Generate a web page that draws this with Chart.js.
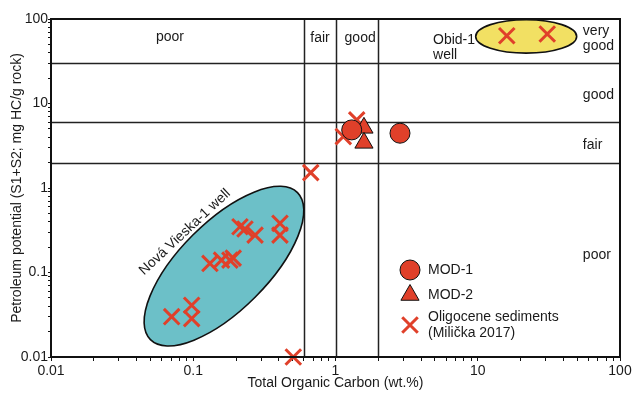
<!DOCTYPE html>
<html>
<head>
<meta charset="utf-8">
<script src="https://cdn.jsdelivr.net/npm/chart.js@4"></script>
<style>
  html, body { margin: 0; padding: 0; background: #fff; }
  #wrap { width: 638px; height: 393px; }
</style>
</head>
<body>
<div id="wrap"><canvas id="tocChart"></canvas></div>
<script>
// decade ticks (both axes are log 0.01 .. 100)
const decades = [0.01, 0.1, 1, 10, 100];
const tickLabels = ['0.01', '0.1', '1', '10', '100'];

// classification boundaries
const tocBounds = [0.6, 1, 2];        // wt.%
const s1s2Bounds = [2, 6, 30];        // mg HC/g rock

// MOD-1 (circles)
const mod1Toc = [1.30, 2.84];
const mod1Pot = [4.87, 4.45];

// MOD-2 (triangles)
const mod2Toc = [1.585, 1.585];
const mod2Pot = [5.15, 3.42];

// Oligocene sediments (Milička 2017)
const oligoToc = [0.0705, 0.0975, 0.0975, 0.131, 0.158, 0.181, 0.191, 0.213, 0.231, 0.272,
                  0.407, 0.407, 0.505, 0.67, 1.41, 1.135, 16.0, 30.8];
const oligoPot = [0.030, 0.041, 0.0285, 0.128, 0.140, 0.140, 0.148, 0.348, 0.327, 0.277,
                  0.382, 0.277, 0.010, 1.52, 6.4, 4.06, 63.4, 66.4];

const RED = '#e0402a';
const FONT = '"Liberation Sans", Arial, sans-serif';

const toPoints = (xs, ys) => xs.map((v, i) => ({x: v, y: ys[i]}));

// ellipses around the well groups (centre in data units, size in px)
const wellGroups = [
  {x: 0.1644, y: 0.1189, rx: 104, ry: 44, angle: -45, fill: '#6cc0c8'},
  {x: 21.9, y: 62.2, rx: 50.5, ry: 16.7, angle: 0, fill: '#f2e063'}
];

// zone labels, anchored in data units
const zoneLabels = [
  {text: ['poor'], x: 0.0686, y: 61.7, align: 'center'},
  {text: ['fair'], x: 0.778, y: 60, align: 'center'},
  {text: ['good'], x: 1.49, y: 60, align: 'center'},
  {text: ['Obid-1', 'well'], x: 4.85, y: 56.9, align: 'left'},
  {text: ['very', 'good'], x: 54.8, y: 71.3, align: 'left'},
  {text: ['good'], x: 54.8, y: 12.7, align: 'left'},
  {text: ['fair'], x: 54.8, y: 3.24, align: 'left'},
  {text: ['poor'], x: 54.8, y: 0.161, align: 'left'}
];
const wellLabel = {text: 'Nová Vieska-1 well', x: 0.0874, y: 0.301, angle: -43};

const legendItems = [
  {text: ['MOD-1'], ds: 0},
  {text: ['MOD-2'], ds: 1},
  {text: ['Oligocene sediments', '(Milička 2017)'], ds: 2}
];

function tickValues() {
  const vals = [];
  decades.slice(0, -1).forEach(d => {
    for (let k = 1; k < 10; k++) vals.push(d * k);
  });
  vals.push(decades[decades.length - 1]);
  return vals.map(v => ({value: v}));
}

function labelFor(value) {
  const i = decades.findIndex(d => Math.abs(Math.log10(d) - Math.log10(value)) < 1e-6);
  return i >= 0 ? tickLabels[i] : '';
}

const overlay = {
  id: 'overlay',
  beforeDatasetsDraw(chart) {
    const {ctx, chartArea: a, scales: {x, y}} = chart;
    ctx.save();

    // zone lines
    ctx.strokeStyle = '#222';
    ctx.lineWidth = 1.5;
    ctx.beginPath();
    tocBounds.forEach(v => {
      const px = Math.round(x.getPixelForValue(v)) + 0.5;
      ctx.moveTo(px, a.top);
      ctx.lineTo(px, a.bottom);
    });
    s1s2Bounds.forEach(v => {
      const py = Math.round(y.getPixelForValue(v)) + 0.5;
      ctx.moveTo(a.left, py);
      ctx.lineTo(a.right, py);
    });
    ctx.stroke();

    // group ellipses
    wellGroups.forEach(e => {
      ctx.beginPath();
      ctx.ellipse(x.getPixelForValue(e.x), y.getPixelForValue(e.y), e.rx, e.ry,
                  e.angle * Math.PI / 180, 0, Math.PI * 2);
      ctx.fillStyle = e.fill;
      ctx.fill();
      ctx.lineWidth = 1.6;
      ctx.strokeStyle = '#111';
      ctx.stroke();
    });

    // labels
    ctx.fillStyle = '#1a1a1a';
    ctx.font = '14px ' + FONT;
    ctx.textBaseline = 'middle';
    zoneLabels.forEach(l => {
      ctx.textAlign = l.align;
      const px = x.getPixelForValue(l.x);
      const py = y.getPixelForValue(l.y);
      l.text.forEach((t, i) => ctx.fillText(t, px, py + i * 15));
    });

    ctx.save();
    ctx.translate(x.getPixelForValue(wellLabel.x), y.getPixelForValue(wellLabel.y));
    ctx.rotate(wellLabel.angle * Math.PI / 180);
    ctx.textAlign = 'center';
    ctx.fillText(wellLabel.text, 0, 0);
    ctx.restore();

    ctx.restore();
  },
  afterDatasetsDraw(chart) {
    const {ctx, chartArea: a} = chart;
    ctx.save();
    // frame
    ctx.strokeStyle = '#111';
    ctx.lineWidth = 2;
    ctx.strokeRect(a.left, a.top, a.right - a.left, a.bottom - a.top);

    // legend
    const lx = 410, tx = 428;
    const rows = [270, 295, 325];
    ctx.font = '14px ' + FONT;
    ctx.textAlign = 'left';
    ctx.textBaseline = 'middle';
    legendItems.forEach((item, i) => {
      const ds = chart.data.datasets[item.ds];
      const cy = rows[i];
      ctx.save();
      ctx.fillStyle = ds.backgroundColor;
      ctx.strokeStyle = ds.borderColor;
      ctx.lineWidth = ds.borderWidth;
      Chart.helpers.drawPoint(ctx, {
        pointStyle: ds.pointStyle,
        radius: ds.pointRadius,
        rotation: 0,
        borderWidth: ds.borderWidth
      }, lx, cy);
      ctx.restore();
      ctx.fillStyle = '#1a1a1a';
      const off = (item.text.length - 1) * 8;
      item.text.forEach((t, j) => ctx.fillText(t, tx, cy - off + j * 16.5));
    });
    ctx.restore();
  }
};

const axisBase = {
  type: 'logarithmic',
  min: decades[0],
  max: decades[decades.length - 1],
  afterBuildTicks: s => { s.ticks = tickValues(); },
  ticks: {
    autoSkip: false,
    maxRotation: 0,
    color: '#1a1a1a',
    font: {family: FONT, size: 14},
    callback: v => labelFor(v)
  },
  grid: {drawOnChartArea: false, drawTicks: true, tickLength: 4, tickColor: '#111', tickWidth: 1},
  border: {display: true, color: '#111', width: 2}
};

new Chart(document.getElementById('tocChart'), {
  type: 'scatter',
  data: {
    datasets: [
      {
        label: 'MOD-1',
        data: toPoints(mod1Toc, mod1Pot),
        pointStyle: 'circle',
        pointRadius: 10,
        backgroundColor: RED,
        borderColor: '#111',
        borderWidth: 1,
        clip: false
      },
      {
        label: 'MOD-2',
        data: toPoints(mod2Toc, mod2Pot),
        pointStyle: 'triangle',
        pointRadius: 10.5,
        backgroundColor: RED,
        borderColor: '#111',
        borderWidth: 1,
        clip: false
      },
      {
        label: 'Oligocene sediments (Milička 2017)',
        data: toPoints(oligoToc, oligoPot),
        pointStyle: 'crossRot',
        pointRadius: 11,
        backgroundColor: RED,
        borderColor: RED,
        borderWidth: 3,
        clip: false
      }
    ]
  },
  options: {
    responsive: true,
    maintainAspectRatio: false,
    animation: false,
    events: [],
    layout: {padding: {top: 19, right: 18, left: 0, bottom: 0}},
    plugins: {legend: {display: false}, tooltip: {enabled: false}},
    scales: {
      x: {
        ...axisBase,
        position: 'bottom',
        ticks: {...axisBase.ticks, padding: 2},
        afterFit: s => { s.height = 36; },
        title: {display: true, text: 'Total Organic Carbon (wt.%)', color: '#1a1a1a',
                font: {family: FONT, size: 14}, padding: {top: 0, bottom: 1}}
      },
      y: {
        ...axisBase,
        position: 'left',
        ticks: {...axisBase.ticks, padding: 0},
        grid: {...axisBase.grid, tickLength: 3},
        afterFit: s => { s.width = 51; },
        title: {display: true, text: 'Petroleum potential (S1+S2; mg HC/g rock)', color: '#1a1a1a',
                font: {family: FONT, size: 14}, padding: {top: 9, bottom: 0}}
      }
    }
  },
  plugins: [overlay]
});
</script>
</body>
</html>
